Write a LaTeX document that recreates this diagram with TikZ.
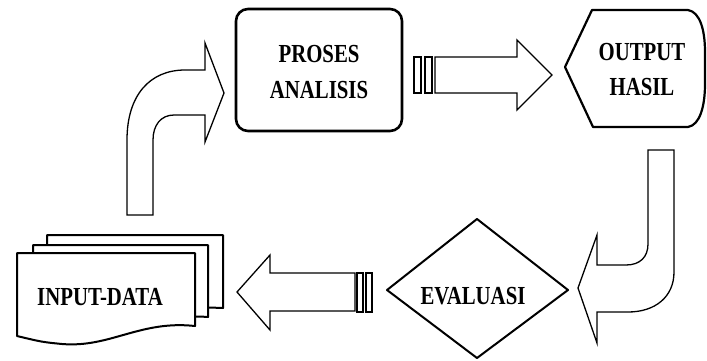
\documentclass[tikz,border=0pt]{standalone}
\usepackage{fontspec}
\setmainfont{Liberation Serif}
\newfontfamily\lblfont[FakeStretch=0.8]{Liberation Serif Bold}
\begin{document}
\begin{tikzpicture}[x=1pt,y=-1pt,
  lbl/.style={font=\lblfont\fontsize{26}{36}\selectfont, align=center, inner sep=0pt},
  shapeline/.style={draw=black, line width=2.2pt, fill=white, line join=round},
  arrowline/.style={draw=black, line width=1.3pt, fill=white, line join=miter},
  barline/.style={draw=black, line width=1.2pt, fill=white}]
\useasboundingbox (0,0) rectangle (707,360);

% PROSES ANALISIS
\draw[shapeline, line width=2.6pt, rounded corners=12pt] (236,9) rectangle (402,131);
\node[lbl] (proses) at (319,72) {PROSES\\ANALISIS};

% OUTPUT HASIL
\draw[shapeline] (565,67) -- (592,10) -- (688,10)
  .. controls (700,12) and (705,30) .. (705,52) -- (705,84)
  .. controls (705,106) and (700,125) .. (688,127) -- (593,127) -- cycle;
\node[lbl, font=\lblfont\fontsize{26}{35}\selectfont] (output) at (642,70) {OUTPUT\\HASIL};

% EVALUASI
\draw[shapeline, line width=2pt] (387,290) -- (477,219) -- (568,290) -- (477,358) -- cycle;
\node[lbl] (evaluasi) at (473,296) {EVALUASI};

% INPUT-DATA (multi-document)
\draw[shapeline, line width=2pt] (47,235) -- (223,235) -- (223,308)
  .. controls (170,305) and (140,325) .. (95,322) .. controls (75,321) .. (47,317) -- cycle;
\draw[shapeline, line width=2pt] (33,245) -- (208,245) -- (208,317)
  .. controls (155,313) and (125,335) .. (80,332) .. controls (60,331) .. (33,326) -- cycle;
\draw[shapeline, line width=2pt] (17,253) -- (195,253) -- (195,326)
  .. controls (140,320) and (110,348) .. (62,344) .. controls (42,342) .. (17,336) -- cycle;
\node[lbl] (input) at (100,297) {INPUT-DATA};

% connector: input -> proses (curved up-right block arrow)
\coordinate (upstart) at (140,215);
\draw[arrowline] (127,215) -- (127,140)
  .. controls (127,95) and (150,70) .. (185,70) -- (205,70) -- (205,43)
  -- (224,93) -- (205,142) -- (205,115) -- (174,115)
  .. controls (161,115) and (153,125) .. (153,140) -- (153,215) -- cycle;

% connector: proses -> output (striped block arrow)
\draw[barline] (414,57) rectangle (421,93);
\draw[barline] (425,57) rectangle (432,93);
\draw[arrowline] (435,57) -- (517,57) -- (517,40) -- (552,75) -- (517,110) -- (517,93) -- (435,93) -- cycle;

% connector: output -> evaluasi (curved down-left block arrow)
\draw[arrowline] (648,150) -- (674,150) -- (674,272)
  .. controls (674,297) and (655,312) .. (628,312) -- (597,312) -- (597,343)
  -- (578,288) -- (597,235) -- (597,265) -- (626,265)
  .. controls (640,265) and (648,257) .. (648,244) -- cycle;

% connector: evaluasi -> input (striped block arrow)
\draw[barline] (357,273) rectangle (363,312);
\draw[barline] (366,273) rectangle (372,312);
\draw[arrowline] (355,273) -- (270,273) -- (270,255) -- (237,292) -- (270,330) -- (270,311) -- (355,311) -- cycle;
\end{tikzpicture}
\end{document}
